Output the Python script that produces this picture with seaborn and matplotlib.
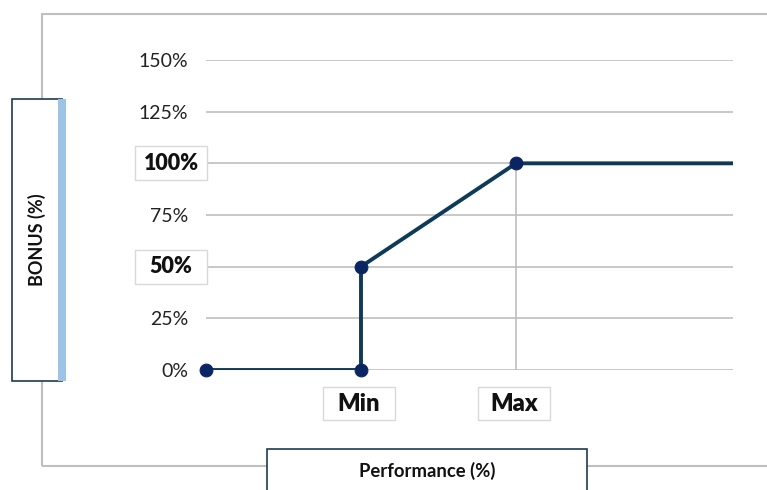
import numpy as np
import pandas as pd
import seaborn as sns
import matplotlib.pyplot as plt
import matplotlib.transforms as mtransforms
from matplotlib.patches import Rectangle

# Data: bonus payout curve
perf = [0, 1, 1, 2, 3.4]          # performance (0 = start, 1 = Min, 2 = Max)
bonus = [0, 0, 50, 100, 100]      # bonus (%)
marker_idx = [0, 1, 2, 3]         # points shown with a dot
y_ticks = [0, 25, 50, 75, 100, 125, 150]
y_labels = ['0%', '25%', '50%', '75%', '100%', '125%', '150%']
bold_y = [50, 100]
x_ticks = [1, 2]
x_labels = ['Min', 'Max']

sns.set_style('white')
plt.rcParams['font.family'] = ['Lato', 'DejaVu Sans']

line_col = '#0e3a5a'
dot_col = '#0b2563'
grid_col = '#bfbfbf'
box_col = '#1f3b52'
lbl_box = '#d9d9d9'

df = pd.DataFrame({'perf': perf, 'bonus': bonus})
pts = df.iloc[marker_idx]

fig = plt.figure(figsize=(7.67, 4.90), dpi=100)
W, H = 767, 490

# outer chart frame
fig.add_artist(Rectangle((42 / W, 24 / H), 1.0, 452 / H, transform=fig.transFigure,
                         fill=False, edgecolor=grid_col, lw=1.5, zorder=0))

ax = fig.add_axes([206 / W, 120 / H, 527 / W, 310 / H])
ax.set_facecolor('none')

for y in y_ticks:
    ax.axhline(y, color=grid_col, lw=1.2, zorder=1)
ax.vlines(x_ticks[1], 0, bonus[3], color=grid_col, lw=1.2, zorder=1)

sns.lineplot(data=df, x='perf', y='bonus', sort=False, estimator=None,
             color=line_col, lw=2.8, ax=ax, zorder=3)
sns.scatterplot(data=pts, x='perf', y='bonus', color=dot_col, s=85,
                edgecolor=dot_col, ax=ax, zorder=4, clip_on=False)

ax.set_xlim(0, 3.4)
ax.set_ylim(0, 150)
for s in ax.spines.values():
    s.set_visible(False)
ax.set_xlabel('')
ax.set_ylabel('')

px = mtransforms.ScaledTranslation
inch = fig.dpi_scale_trans

# y tick labels; the highlighted ones are drawn in boxes
ax.set_yticks(y_ticks)
ax.set_yticklabels([l if t not in bold_y else '' for t, l in zip(y_ticks, y_labels)],
                   fontsize=14, color='#222222')
ax.tick_params(axis='y', length=0, pad=13)

ytr = ax.get_yaxis_transform()
for t, l in zip(y_ticks, y_labels):
    if t in bold_y:
        anchor = inch + px(0, t, ytr)
        ax.add_artist(Rectangle((-0.71, -0.17), 0.72, 0.34, transform=anchor,
                                facecolor='white', edgecolor=lbl_box, lw=1,
                                clip_on=False, zorder=5))
        ax.text(-0.35, 0, l, transform=anchor, ha='center', va='center', fontsize=15.5,
                fontweight='heavy', color='#111111', zorder=6, clip_on=False)

# x tick labels in boxes
ax.set_xticks(x_ticks)
ax.set_xticklabels([])
ax.tick_params(axis='x', length=0)
xtr = ax.get_xaxis_transform()
for t, l in zip(x_ticks, x_labels):
    anchor = inch + px(t, 0, xtr)
    ax.add_artist(Rectangle((-0.38, -0.50), 0.72, 0.33, transform=anchor,
                            facecolor='white', edgecolor=lbl_box, lw=1,
                            clip_on=False, zorder=5))
    ax.text(-0.02, -0.335, l, transform=anchor, ha='center', va='center', fontsize=17,
            fontweight='heavy', color='#111111', zorder=6, clip_on=False)

# y axis title box
fig.add_artist(Rectangle((12 / W, 109 / H), 50 / W, 282 / H, transform=fig.transFigure,
                         facecolor='white', edgecolor=box_col, lw=1.2, zorder=5))
fig.add_artist(Rectangle((58 / W, 109 / H), 8 / W, 282 / H, transform=fig.transFigure,
                         facecolor='#9dc3e6', edgecolor='none', zorder=6))
fig.text(37 / W, 250 / H, 'BONUS (%)', rotation=90, ha='center', va='center',
         fontsize=13, fontweight='bold', color='#111111', zorder=7)

# x axis title box
fig.add_artist(Rectangle((267 / W, -0.05), 320 / W, 41 / H + 0.05, transform=fig.transFigure,
                         facecolor='white', edgecolor=box_col, lw=1.2, zorder=5))
fig.text(427 / W, 19 / H, 'Performance (%)', ha='center', va='center',
         fontsize=13.3, fontweight='bold', color='#111111', zorder=7)

fig.savefig('out.png', dpi=100)
